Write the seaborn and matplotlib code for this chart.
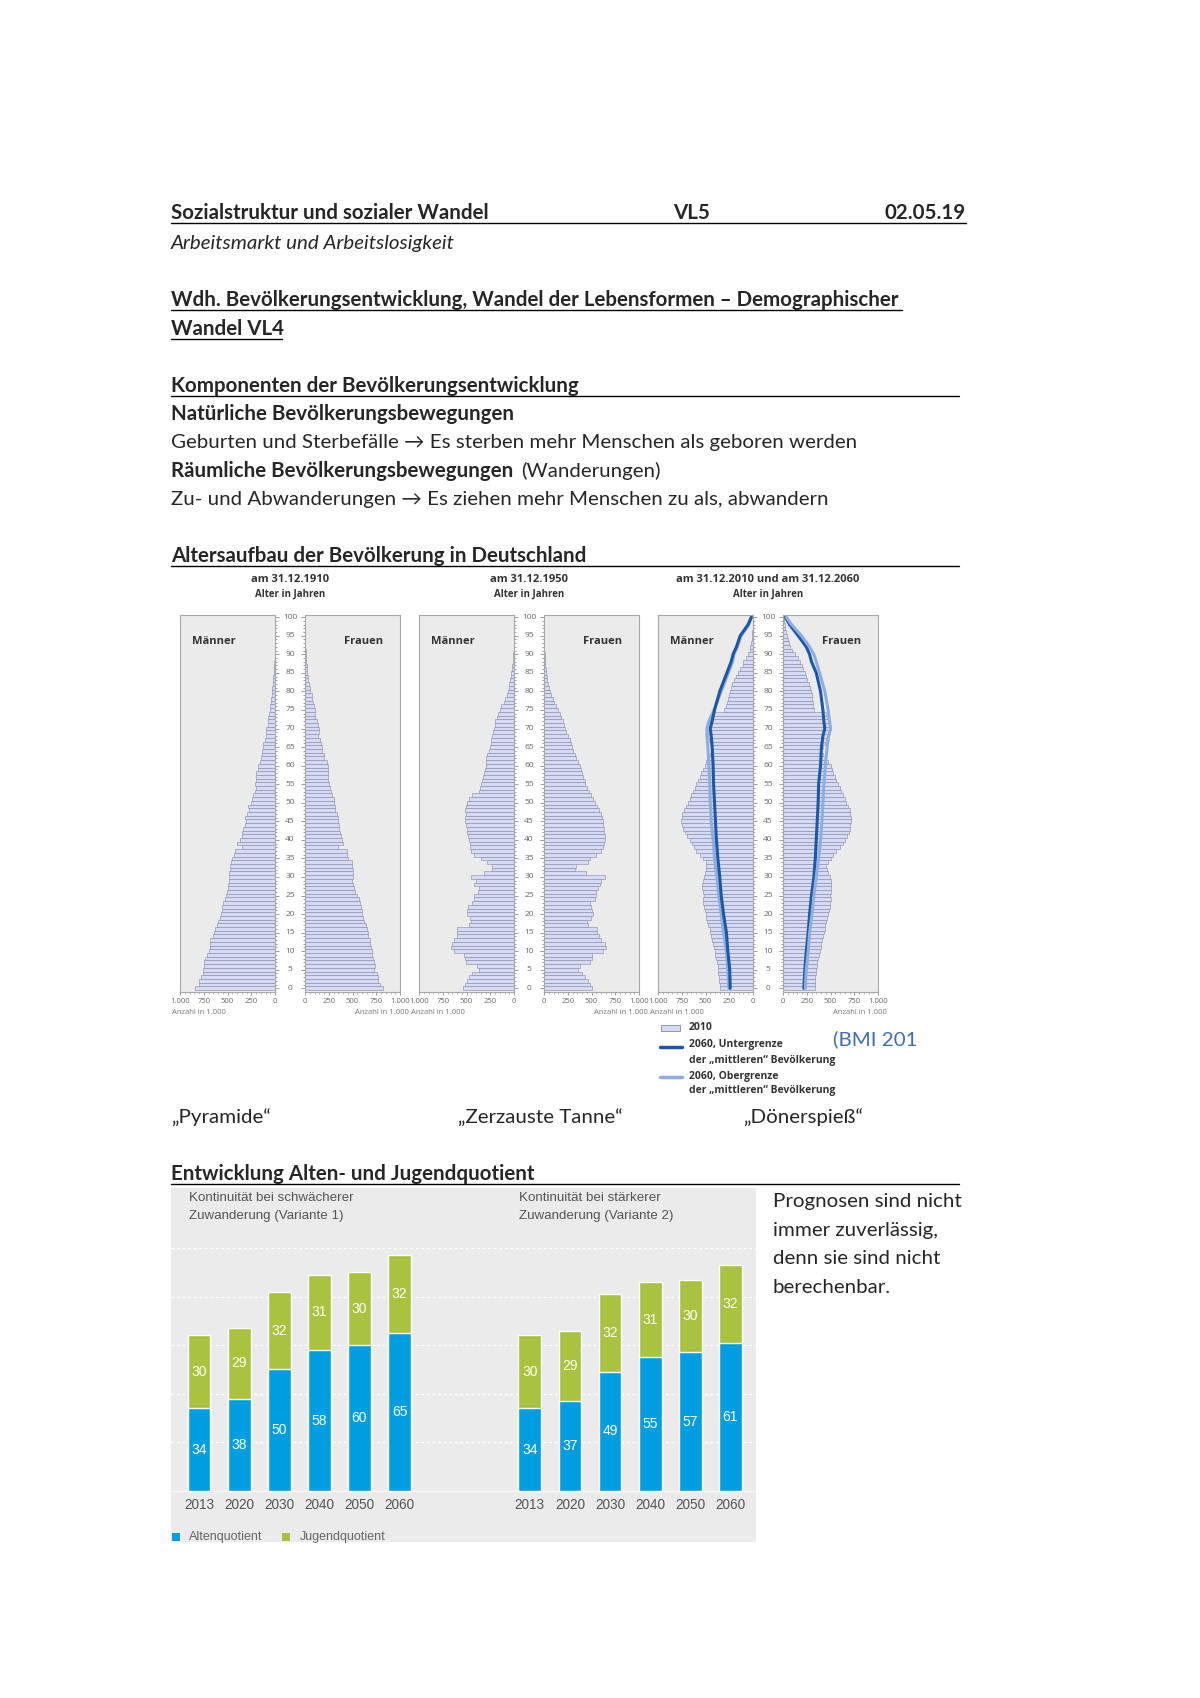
import numpy as np
import pandas as pd
import matplotlib
matplotlib.use("Agg")
import matplotlib.pyplot as plt
import seaborn as sns
from matplotlib.lines import Line2D
from matplotlib.patches import Rectangle
from matplotlib.transforms import blended_transform_factory

W, H = 1200, 1698

# --- Altersaufbau: Anzahl in 1.000 je Altersjahr (0..100), aus dem Bild geschaetzt ---
ages = list(range(101))

men_1910 = [840, 800, 800, 780, 755, 755, 745, 745, 735, 720,
            700, 685, 685, 685, 650, 640, 630, 615, 595, 580,
            570, 560, 555, 545, 525, 520, 510, 490, 500, 485,
            485, 485, 475, 475, 465, 450, 430, 420, 350, 395,
            370, 350, 350, 335, 315, 310, 315, 290, 275, 280,
            255, 245, 230, 210, 205, 210, 205, 195, 195, 180,
            180, 160, 150, 135, 135, 125, 125, 110, 100, 100,
            90, 78, 78, 70, 63, 56, 52, 45, 40, 35,
            30, 27, 23, 20, 17, 14, 11, 9, 7, 5,
            4, 3, 2, 2, 1, 1, 1, 0, 0, 0, 0]
women_1910 = [820, 790, 770, 765, 755, 730, 735, 730, 720, 710,
              700, 695, 685, 685, 665, 660, 650, 640, 625, 615,
              605, 595, 590, 580, 570, 545, 525, 520, 510, 490,
              500, 500, 500, 490, 490, 455, 440, 440, 350, 405,
              385, 380, 370, 360, 360, 350, 345, 335, 315, 315,
              310, 300, 280, 275, 265, 255, 245, 245, 245, 240,
              245, 230, 205, 195, 180, 175, 170, 160, 140, 145,
              145, 135, 125, 110, 105, 100, 90, 85, 77, 70,
              55, 50, 43, 36, 30, 25, 20, 16, 13, 10,
              8, 6, 5, 3, 2, 2, 1, 1, 0, 0, 0]

men_1950 = [535, 520, 490, 475, 440, 370, 385, 510, 520, 525,
            630, 665, 650, 630, 605, 605, 595, 475, 455, 465,
            500, 500, 485, 440, 420, 420, 380, 370, 420, 405,
            455, 315, 230, 230, 280, 350, 420, 450, 465, 465,
            475, 485, 490, 500, 510, 520, 520, 510, 520, 510,
            490, 475, 440, 370, 360, 350, 335, 325, 315, 310,
            300, 300, 290, 280, 265, 255, 245, 240, 230, 220,
            210, 205, 195, 180, 170, 150, 135, 110, 100, 78,
            63, 55, 48, 42, 35, 28, 22, 17, 13, 10,
            7, 5, 4, 3, 2, 1, 1, 0, 0, 0, 0]
women_1950 = [500, 480, 465, 430, 395, 360, 375, 480, 500, 500,
              620, 655, 640, 605, 575, 560, 560, 465, 455, 490,
              515, 505, 490, 480, 535, 550, 550, 570, 585, 605,
              640, 445, 325, 340, 465, 480, 550, 605, 620, 630,
              640, 645, 630, 630, 620, 620, 610, 605, 575, 560,
              540, 515, 490, 470, 455, 435, 430, 410, 400, 385,
              375, 360, 340, 325, 305, 290, 280, 270, 255, 235,
              225, 210, 200, 180, 165, 145, 130, 110, 95, 77,
              63, 53, 42, 35, 28, 22, 18, 14, 11, 8,
              6, 4, 3, 2, 1, 1, 0, 0, 0, 0, 0]

men_2010 = [350, 350, 360, 360, 370, 370, 370, 380, 385, 395,
            405, 415, 420, 430, 440, 450, 455, 475, 485, 490,
            500, 510, 520, 525, 525, 520, 525, 535, 535, 525,
            520, 510, 500, 490, 500, 525, 560, 595, 625, 640,
            665, 700, 720, 735, 745, 755, 750, 745, 730, 710,
            685, 665, 650, 630, 615, 595, 580, 560, 545, 525,
            510, 490, 475, 450, 430, 440, 455, 465, 475, 475,
            465, 455, 450, 440, 420, 300, 280, 275, 265, 255,
            245, 230, 220, 205, 180, 160, 135, 110, 100, 78,
            52, 35, 28, 20, 14, 10, 7, 5, 3, 2, 1]
women_2010 = [335, 335, 340, 340, 350, 350, 360, 360, 370, 375,
              385, 395, 405, 410, 420, 430, 440, 445, 455, 465,
              475, 480, 490, 490, 500, 490, 500, 510, 510, 500,
              490, 475, 465, 455, 475, 500, 525, 560, 595, 630,
              655, 675, 690, 700, 710, 720, 720, 710, 700, 685,
              665, 650, 630, 615, 595, 580, 560, 545, 525, 515,
              500, 475, 440, 420, 405, 420, 445, 455, 475, 490,
              510, 490, 475, 465, 455, 325, 315, 315, 305, 300,
              290, 280, 270, 255, 245, 230, 210, 195, 175, 160,
              125, 90, 70, 60, 52, 45, 35, 25, 18, 12, 8]

# 2060: Unter-/Obergrenze der "mittleren" Bevoelkerung
line_ages = [0, 5, 10, 15, 20, 25, 30, 35, 40, 45, 50, 55, 60, 65,
             68, 70, 72, 75, 80, 85, 88, 90, 92, 95, 98, 100]
men_2060_low = [240, 245, 265, 280, 310, 335, 350, 370, 385, 395, 405, 415, 420, 430,
                440, 450, 430, 405, 350, 275, 230, 210, 175, 135, 52, 18]
men_2060_high = [255, 265, 280, 310, 335, 360, 380, 405, 420, 440, 450, 455, 465, 475,
                 485, 485, 465, 410, 335, 260, 215, 200, 165, 125, 45, 15]
women_2060_low = [220, 230, 245, 265, 280, 300, 325, 340, 350, 360, 370, 375, 395, 405,
                  420, 440, 430, 420, 395, 350, 300, 280, 245, 160, 70, 25]
women_2060_high = [235, 245, 265, 280, 305, 325, 350, 375, 395, 410, 420, 430, 445, 465,
                   480, 500, 490, 475, 440, 385, 350, 325, 280, 195, 90, 35]

pyramid_titles = ['am 31.12.1910', 'am 31.12.1950', 'am 31.12.2010 und am 31.12.2060']
pyramid_names = ['\u201ePyramide\u201c', '\u201eZerzauste Tanne\u201c', '\u201eD\u00f6nerspie\u00df\u201c']

# --- Alten- und Jugendquotient ---
years = ['2013', '2020', '2030', '2040', '2050', '2060']
v1_alten = [34, 38, 50, 58, 60, 65]
v1_jugend = [30, 29, 32, 31, 30, 32]
v2_alten = [34, 37, 49, 55, 57, 61]
v2_jugend = [30, 29, 32, 31, 30, 32]

BAR_FILL = '#d6daf2'
BAR_EDGE = '#8589aa'
PANEL = '#ebebeb'
DARK_BLUE = '#1d57a5'
LIGHT_BLUE = '#8eaee0'
BLUE = '#009ee0'
GREEN = '#a9c23f'
FS = 14.75  # body text size

sns.set_theme(style='white')
plt.rcParams['font.family'] = ['Lato', 'DejaVu Sans']

fig = plt.figure(figsize=(W / 100, H / 100), dpi=100)
fig.patch.set_facecolor('white')


def box(x0, y0, x1, y1):
    return [x0 / W, 1 - y1 / H, (x1 - x0) / W, (y1 - y0) / H]


def txt(x, y, s, size=FS, **kw):
    kw.setdefault('va', 'center')
    return fig.text(x / W, 1 - y / H, s, fontsize=size, **kw)


def hline(x0, x1, y, lw=1.0, color='black'):
    fig.add_artist(Line2D([x0 / W, x1 / W], [1 - y / H] * 2, color=color, lw=lw))


# --- page text ---
txt(171, 213, 'Sozialstruktur und sozialer Wandel', weight='bold')
txt(673, 213, 'VL5', weight='bold')
txt(966, 213, '02.05.19', weight='bold', ha='right')
hline(171, 966, 223)
txt(171, 243, 'Arbeitsmarkt und Arbeitslosigkeit', style='italic')
txt(171, 300, 'Wdh. Bev\u00f6lkerungsentwicklung, Wandel der Lebensformen \u2013 Demographischer', weight='bold')
hline(171, 902, 310)
txt(171, 329, 'Wandel VL4', weight='bold')
hline(171, 282, 339)
txt(171, 386, 'Komponenten der Bev\u00f6lkerungsentwicklung', weight='bold')
hline(171, 959, 396)
txt(171, 414, 'Nat\u00fcrliche Bev\u00f6lkerungsbewegungen', weight='bold')
txt(171, 442, 'Geburten und Sterbef\u00e4lle \u2192 Es sterben mehr Menschen als geboren werden')
txt(171, 471, 'R\u00e4umliche Bev\u00f6lkerungsbewegungen', weight='bold')
txt(521, 471, '(Wanderungen)')
txt(171, 499, 'Zu- und Abwanderungen \u2192 Es ziehen mehr Menschen zu als, abwandern')
txt(171, 556, 'Altersaufbau der Bev\u00f6lkerung in Deutschland', weight='bold')
hline(171, 959, 566)

# --- pyramids ---
pyr_font = ['Open Sans', 'DejaVu Sans']
pyramids = [(men_1910, women_1910), (men_1950, women_1950), (men_2010, women_2010)]
for i, (men, women) in enumerate(pyramids):
    left = 180 + 239 * i
    ax_m = fig.add_axes(box(left, 615, left + 95, 992))
    ax_w = fig.add_axes(box(left + 125, 615, left + 220, 992))
    for ax, vals in ((ax_m, men), (ax_w, women)):
        ax.set_facecolor(PANEL)
        sns.barplot(x=vals, y=ages, orient='y', native_scale=True, width=1.0,
                    color=BAR_FILL, saturation=1, edgecolor=BAR_EDGE, linewidth=0.4,
                    errorbar=None, ax=ax)
    if i == 2:
        sns.lineplot(x=men_2060_high, y=line_ages, orient='y', estimator=None, sort=False,
                     color=LIGHT_BLUE, lw=2.2, ax=ax_m)
        sns.lineplot(x=men_2060_low, y=line_ages, orient='y', estimator=None, sort=False,
                     color=DARK_BLUE, lw=2.2, ax=ax_m)
        sns.lineplot(x=women_2060_low, y=line_ages, orient='y', estimator=None, sort=False,
                     color=DARK_BLUE, lw=2.2, ax=ax_w)
        sns.lineplot(x=women_2060_high, y=line_ages, orient='y', estimator=None, sort=False,
                     color=LIGHT_BLUE, lw=2.2, ax=ax_w)
    ax_m.set_xlim(1000, 0)
    ax_w.set_xlim(0, 1000)
    for ax in (ax_m, ax_w):
        ax.set_ylim(-1, 100.6)
        ax.set_xlabel('')
        ax.set_ylabel('')
        ax.set_xticks([0, 250, 500, 750, 1000])
        ax.set_xticklabels(['0', '250', '500', '750', '1.000'], fontsize=5.5,
                           color='#666666', family=pyr_font)
        ax.set_xticks(np.arange(0, 1001, 50), minor=True)
        ax.tick_params(axis='x', which='major', bottom=True, length=2.5, width=0.6,
                       color='#888888', pad=2)
        ax.tick_params(axis='x', which='minor', bottom=True, length=1.2, width=0.5,
                       color='#999999')
        ax.set_yticks(range(0, 101, 5))
        ax.set_yticks(range(0, 101), minor=True)
        ax.set_yticklabels([])
        for sp in ax.spines.values():
            sp.set_color('#a8a8a8')
            sp.set_linewidth(0.8)
    ax_m.tick_params(axis='y', which='both', left=False, right=True, color='#777777', width=0.5)
    ax_m.tick_params(axis='y', which='major', length=3)
    ax_m.tick_params(axis='y', which='minor', length=1.5)
    ax_w.tick_params(axis='y', which='both', left=True, right=False, color='#777777', width=0.5)
    ax_w.tick_params(axis='y', which='major', length=3)
    ax_w.tick_params(axis='y', which='minor', length=1.5)
    trans = blended_transform_factory(ax_m.transAxes, ax_m.transData)
    for a in range(0, 101, 5):
        ax_m.text(1 + 15 / 95, a, str(a), transform=trans, ha='center', va='center',
                  fontsize=6, color='#666666', family=pyr_font, clip_on=False)

    txt(left + 110, 579, pyramid_titles[i], size=8, weight='bold', ha='center',
        color='#333333', family=pyr_font)
    txt(left + 110, 594, 'Alter in Jahren', size=7, weight='bold', ha='center',
        color='#333333', family=pyr_font)
    txt(left + 12, 641, 'M\u00e4nner', size=8, weight='bold', color='#333333', family=pyr_font)
    txt(left + 203, 641, 'Frauen', size=8, weight='bold', color='#333333',
        family=pyr_font, ha='right')
    txt(left - 8, 1013, 'Anzahl in 1.000', size=5.5, color='#777777', family=pyr_font)
    txt(left + 229, 1013, 'Anzahl in 1.000', size=5.5, color='#777777', family=pyr_font,
        ha='right')

# legend of the 2010/2060 pyramid
fig.add_artist(Rectangle((661 / W, 1 - 1031 / H), 19 / W, 6 / H, facecolor=BAR_FILL,
                         edgecolor=BAR_EDGE, lw=0.6))
hline(660, 682, 1047, lw=2.5, color=DARK_BLUE)
hline(660, 682, 1077, lw=2.5, color=LIGHT_BLUE)
leg_kw = dict(size=7.5, weight='bold', color='#333333', family=pyr_font)
txt(689, 1028, '2010', **leg_kw)
txt(689, 1045, '2060, Untergrenze', **leg_kw)
txt(689, 1060, 'der \u201emittleren\u201c Bev\u00f6lkerung', **leg_kw)
txt(689, 1077, '2060, Obergrenze', **leg_kw)
txt(689, 1091, 'der \u201emittleren\u201c Bev\u00f6lkerung', **leg_kw)
txt(833, 1039, '(BMI 201', color='#3f6fb5')

for i, name in enumerate(pyramid_names):
    txt([171, 458, 743][i], 1117, name)

# --- Alten- und Jugendquotient ---
txt(171, 1174, 'Entwicklung Alten- und Jugendquotient', weight='bold')
hline(171, 959, 1184)

df = pd.DataFrame({
    'pos': np.concatenate([np.arange(6), np.arange(6) + 8.25]),
    'year': years + years,
    'alten': v1_alten + v2_alten,
    'jugend': v1_jugend + v2_jugend,
})
df['total'] = df['alten'] + df['jugend']

ax_b = fig.add_axes(box(171, 1188, 756, 1542))
ax_b.set_facecolor('#ebebeb')
for v in [20, 40, 60, 80, 100]:
    ax_b.axhline(v, color='white', lw=1.0, ls=(0, (2, 2)), zorder=0.5)
ax_b.axhline(0, color='#f6f6f6', lw=1.0, zorder=0.5)
sns.barplot(data=df, x='pos', y='total', orient='x', native_scale=True, width=0.57,
            color=GREEN, saturation=1, errorbar=None, ax=ax_b)
sns.barplot(data=df, x='pos', y='alten', orient='x', native_scale=True, width=0.57,
            color=BLUE, saturation=1, errorbar=None, ax=ax_b)
ax_b.set_xlim(-0.70, 13.89)
ax_b.set_ylim(-21.0, 124.7)
ax_b.set_xticks([])
ax_b.set_yticks([])
ax_b.set_xlabel('')
ax_b.set_ylabel('')
for sp in ax_b.spines.values():
    sp.set_visible(False)

bar_font = ['Liberation Sans', 'DejaVu Sans']
for _, r in df.iterrows():
    ax_b.text(r['pos'], r['alten'] / 2, str(r['alten']), ha='center', va='center',
              color='white', fontsize=10, family=bar_font)
    ax_b.text(r['pos'], r['alten'] + r['jugend'] / 2, str(r['jugend']), ha='center',
              va='center', color='white', fontsize=10, family=bar_font)
    ax_b.text(r['pos'], -5.8, r['year'], ha='center', va='center', color='#555555',
              fontsize=9.8, family=bar_font)

sub_kw = dict(size=9.6, color='#555555', family=bar_font)
txt(189, 1198, 'Kontinuit\u00e4t bei schw\u00e4cherer', **sub_kw)
txt(189, 1216, 'Zuwanderung (Variante 1)', **sub_kw)
txt(519, 1198, 'Kontinuit\u00e4t bei st\u00e4rkerer', **sub_kw)
txt(519, 1216, 'Zuwanderung (Variante 2)', **sub_kw)

fig.add_artist(Rectangle((172 / W, 1 - 1541 / H), 8 / W, 8 / H, facecolor=BLUE, lw=0))
fig.add_artist(Rectangle((282 / W, 1 - 1541 / H), 8 / W, 8 / H, facecolor=GREEN, lw=0))
txt(189, 1537, 'Altenquotient', size=9, color='#666666', family=bar_font)
txt(300, 1537, 'Jugendquotient', size=9, color='#666666', family=bar_font)

for k, line in enumerate(['Prognosen sind nicht', 'immer zuverl\u00e4ssig,',
                          'denn sie sind nicht', 'berechenbar.']):
    txt(773, 1202 + 28.5 * k, line)

fig.savefig('out.png', dpi=100, facecolor='white')
